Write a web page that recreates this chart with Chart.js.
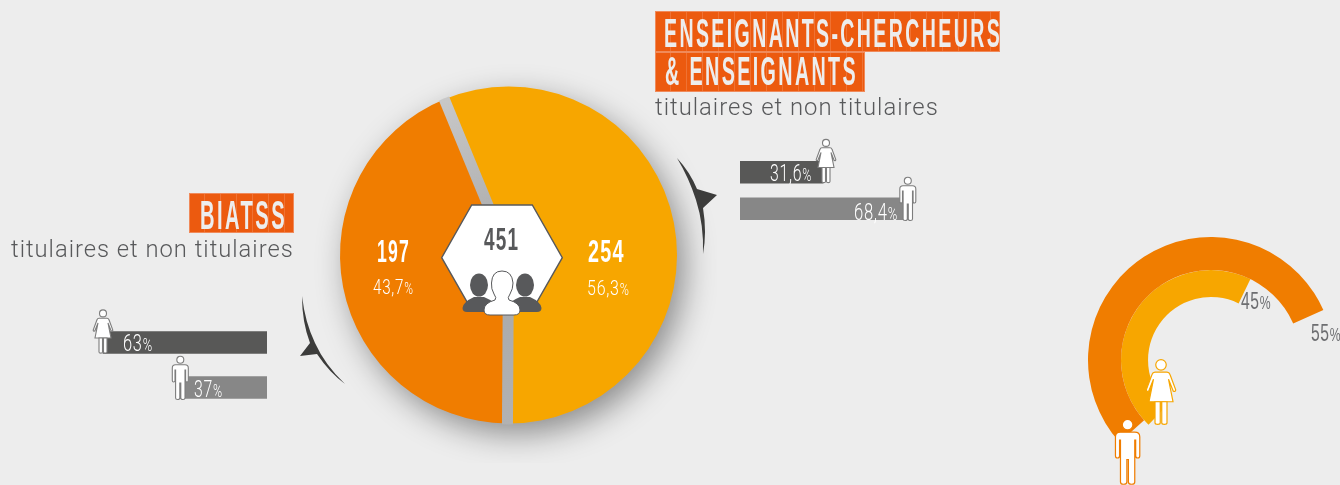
<!DOCTYPE html>
<html lang="fr">
<head>
<meta charset="utf-8">
<title>BIATSS et enseignants</title>
<script src="https://cdn.jsdelivr.net/npm/chart.js@4"></script>
<style>
html,body{margin:0;padding:0;width:1340px;height:485px;overflow:hidden;background:#ededed}
canvas{position:absolute;display:block}
svg{position:absolute;left:0;top:0}
.t{position:absolute;white-space:nowrap;line-height:1;font-family:"Liberation Sans",sans-serif;transform-origin:0 0}
.t small{font-size:.78em}
.sub{font-family:Roboto,sans-serif;font-weight:300;font-size:24px;letter-spacing:1px;color:#58595b}
.box{position:absolute;background:repeating-linear-gradient(90deg,#ec5a0f 0 15px,#ef7233 15px 16px);outline:1px solid #f08a5a;outline-offset:-1px}
.head{font-weight:700;font-size:41px;color:#ededed;letter-spacing:5px}
.light{font-family:Roboto,sans-serif;font-weight:300}
</style>
</head>
<body>
<canvas id="pie" style="left:300px;top:47px" width="417" height="416"></canvas>
<canvas id="barsR" style="left:740px;top:154px" width="185" height="73"></canvas>
<canvas id="barsL" style="left:67px;top:320px" width="200" height="90"></canvas>
<canvas id="radial" style="left:1088px;top:237px" width="246" height="246"></canvas>

<svg width="1340" height="485" viewBox="0 0 1340 485">
  <defs>
    <g id="woman">
      <circle cx="10" cy="3.9" r="3.5"/>
      <path d="M6,8.8 L14,8.8 Q15.5,8.8 16,10.3 L19.8,20.5 Q19.8,22 18.2,21.5 L15,13.5 L18,28.5 H2 L5,13.5 L1.8,21.5 Q0.2,22 0.2,20.5 L4,10.3 Q4.5,8.8 6,8.8Z"/>
      <path d="M6,28.5 H9.5 V42.5 Q9.5,43.6 7.8,43.6 Q6,43.6 6,42.5Z M10.5,28.5 H14 V42.5 Q14,43.6 12.2,43.6 Q10.5,43.6 10.5,42.5Z"/>
    </g>
    <g id="man">
      <circle cx="8.3" cy="3.8" r="3.5"/>
      <path d="M3.5,8.8 H13 Q16.3,8.8 16.3,12 V24.5 Q16.3,26 15,26 Q13.6,26 13.6,24.5 V14 H13 V42 Q13,43.5 11,43.5 Q8.8,43.5 8.8,42 V27 H7.8 V42 Q7.8,43.5 5.6,43.5 Q3.6,43.5 3.6,42 V14 H3 V24.5 Q3,26 1.6,26 Q.3,26 .3,24.5 V12 Q.3,8.8 3.5,8.8Z"/>
    </g>
  </defs>

  <!-- arrows -->
  <path fill="#3c3c3b" d="M677,158 Q690,172 697,189 L717,195 L703,208 Q707,232 703,254 Q704,225 696,200 Q689,178 677,158Z"/>
  <path fill="#3c3c3b" d="M302,296 Q302,322 310,343 L300,356 L317,354 Q329,372 345,384 Q325,365 315,343 Q305,322 302,296Z"/>

  <!-- hexagon with people -->
  <path fill="#fff" stroke="#58595b" stroke-width="1.4" d="M471.7,205 H532.3 L562.3,257.7 L532.3,310 H471.7 L441.7,257.7Z"/>
  <g fill="#58595b">
    <ellipse cx="479" cy="285" rx="9" ry="11.5"/>
    <path d="M462.5,308 Q463,302 474,297 L484,297 Q496,302 497,308 Q497,312 493,312 H467 Q462.5,312 462.5,308Z"/>
    <ellipse cx="525" cy="285" rx="9" ry="11.5"/>
    <path d="M507,308 Q508,302 520,297 L530,297 Q541,302 541.5,308 Q541.5,312 537,312 H511 Q507,312 507,308Z"/>
  </g>
  <path fill="#fff" stroke="#58595b" stroke-width="1" d="M484,310 Q484,303 495,300 Q497,298 494,294 Q491,289 491.5,283 Q492,271 502,271 Q512,271 513,283 Q513,289 510,294 Q507,298 509,300 Q520,303 520,310 Q520,315 514,315 H490 Q484,315 484,310Z"/>

  <!-- people on the bars -->
  <g fill="#fff" stroke="#7d7d7d" stroke-width="1.1">
    <use href="#woman" x="816" y="139"/>
    <use href="#man" x="899.5" y="177"/>
    <use href="#woman" x="93" y="309.5"/>
    <use href="#man" x="172" y="356"/>
  </g>
  <!-- people on the rings -->
  <use href="#woman" fill="#fff" stroke="#f7a600" stroke-width=".8" transform="translate(1146,359) scale(1.5)"/>
  <use href="#man" fill="#fff" stroke="#f07d00" stroke-width=".8" transform="translate(1115,419) scale(1.52,1.5)"/>
</svg>

<script>
Chart.defaults.animation = false;
Chart.defaults.responsive = false;
Chart.defaults.devicePixelRatio = 1;
Chart.defaults.plugins.legend.display = false;
Chart.defaults.plugins.tooltip.enabled = false;

/* ---------- data ---------- */
const totalLabel = '451';
const pieLabels = ['Enseignants-chercheurs & enseignants', 'BIATSS'];
const pieValues = [254, 197];
const piePercents = ['56,3%', '43,7%'];

const teacherLabels = ['Femmes', 'Hommes'];
const teacherValues = [31.6, 68.4];
const teacherText = ['31,6%', '68,4%'];

const biatssLabels = ['Femmes', 'Hommes'];
const biatssValues = [63, 37];
const biatssText = ['63%', '37%'];

const ringLabels = ['Hommes', 'Femmes'];
const ringValues = [55, 45];
const ringText = ['55%', '45%'];

const titleTeacher = ['ENSEIGNANTS-CHERCHEURS', '& ENSEIGNANTS'];
const titleBiatss = 'BIATSS';
const subtitle = 'titulaires et non titulaires';

const yellow = '#f7a600', orange = '#f07d00', dark = '#585857', mid = '#878787';

/* ---------- pie ---------- */
const pieDecor = {
  id: 'pieDecor',
  beforeDatasetsDraw(chart) {
    const a = chart.getDatasetMeta(0).data[0], c = chart.ctx;
    c.save();
    c.shadowColor = 'rgba(0,0,0,.42)';
    c.shadowBlur = 32;
    c.shadowOffsetX = 8;
    c.shadowOffsetY = 11;
    c.fillStyle = '#b4b4b4';
    c.beginPath();
    c.arc(a.x, a.y, a.outerRadius - 1, 0, Math.PI * 2);
    c.fill();
    c.restore();
  },
  afterDatasetsDraw(chart) {
    const arcs = chart.getDatasetMeta(0).data, c = chart.ctx;
    const a = arcs[0];
    c.save();
    c.beginPath();
    c.arc(a.x, a.y, a.outerRadius + 1, 0, Math.PI * 2);
    c.clip();
    arcs.forEach((arc, i) => {
      const ex = a.x + Math.cos(arc.startAngle) * (a.outerRadius + 2);
      const ey = a.y + Math.sin(arc.startAngle) * (a.outerRadius + 2);
      const g = c.createLinearGradient(a.x, a.y, ex, ey);
      g.addColorStop(0, '#a8a8a8');
      g.addColorStop(1, i === 0 ? '#c8c8c8' : '#b2b2b2');
      c.strokeStyle = g;
      c.lineWidth = 11;
      c.beginPath();
      c.moveTo(a.x, a.y);
      c.lineTo(ex, ey);
      c.stroke();
    });
    c.restore();
  }
};
new Chart(document.getElementById('pie'), {
  type: 'pie',
  data: { labels: pieLabels, datasets: [{ data: pieValues, backgroundColor: [yellow, orange], borderWidth: 0 }] },
  options: { radius: 168.5, rotation: -22.4 },
  plugins: [pieDecor]
});

/* ---------- bars ---------- */
function barChart(id, labels, values, min, max, reverse) {
  new Chart(document.getElementById(id), {
    type: 'bar',
    data: { labels, datasets: [{ data: values, base: min, backgroundColor: [dark, mid], borderWidth: 0, barThickness: 22 }] },
    options: {
      indexAxis: 'y',
      layout: { padding: 0 },
      scales: {
        x: { display: false, min, max, reverse },
        y: { display: false, offset: true }
      }
    }
  });
}
barChart('barsR', teacherLabels, teacherValues, -6.6, 78.5, false);
barChart('barsL', biatssLabels, biatssValues, 10.35, 74.55, true);

/* ---------- rings ---------- */
new Chart(document.getElementById('radial'), {
  type: 'doughnut',
  data: {
    labels: [ringLabels[0], ringLabels[1]],
    datasets: [
      { data: [ringValues[0], ringValues[1]], backgroundColor: [orange, 'transparent'], rotation: 228, borderWidth: 0, weight: 33 },
      { data: [ringValues[1], ringValues[0]], backgroundColor: [yellow, 'transparent'], rotation: 224, borderWidth: 0, weight: 27 }
    ]
  },
  options: { cutout: '51.2%' }
});

/* ---------- text ---------- */
function pct(s) { return s.replace('%', '<small>%</small>'); }
/* text squeezed horizontally to the given width: the condensed type of the poster */
function text(html, x, y, w, css, cls) {
  const d = document.createElement('div');
  d.className = 't' + (cls ? ' ' + cls : '');
  d.innerHTML = html;
  d.style.cssText = 'left:' + x + 'px;top:' + y + 'px;' + css;
  document.body.appendChild(d);
  d.style.transform = 'scaleX(' + (w / d.offsetWidth) + ')';
  return d;
}
function box(x, y, w, h) {
  const d = document.createElement('div');
  d.className = 'box';
  d.style.cssText = 'left:' + x + 'px;top:' + y + 'px;width:' + w + 'px;height:' + h + 'px';
  document.body.appendChild(d);
}
box(655, 11, 345, 41);
box(655, 52, 210, 40);
box(189, 193, 105, 40);
text(titleTeacher[0], 664, 13, 338, '', 'head');
text(titleTeacher[1].replace('&', '&amp;'), 665, 51, 193, '', 'head');
text(titleBiatss, 200, 195, 87, '', 'head');

text(subtitle, 655, 95, 284, '', 'sub');
text(subtitle, 11, 237, 283, '', 'sub');

const bold = 'font-weight:700;font-size:31px;letter-spacing:2px;';
const reg = 'font-size:20px;color:#fff;letter-spacing:1px;';
text(String(pieValues[1]), 377, 236, 33, bold + 'color:#fff');
text(String(pieValues[0]), 588, 236, 37, bold + 'color:#fff');
text(totalLabel, 484, 223, 35, bold + 'font-size:32px;color:#58595b');
text(pct(piePercents[1]), 373, 277, 41, reg, 'light');
text(pct(piePercents[0]), 587, 278, 43, reg, 'light');

const barTxt = 'font-size:23px;color:#fff;letter-spacing:1px;';
text(pct(teacherText[0]), 770, 162, 42, barTxt, 'light');
text(pct(teacherText[1]), 854, 201, 44, barTxt, 'light');
text(pct(biatssText[0]), 123, 332, 30, barTxt, 'light');
text(pct(biatssText[1]), 194, 378, 29, barTxt, 'light');

const ringTxt = 'font-size:24px;color:#6d6e71;letter-spacing:1px;';
text(pct(ringText[0]), 1311, 321, 30, ringTxt);
text(pct(ringText[1]), 1241, 289, 30, ringTxt);
</script>
</body>
</html>
